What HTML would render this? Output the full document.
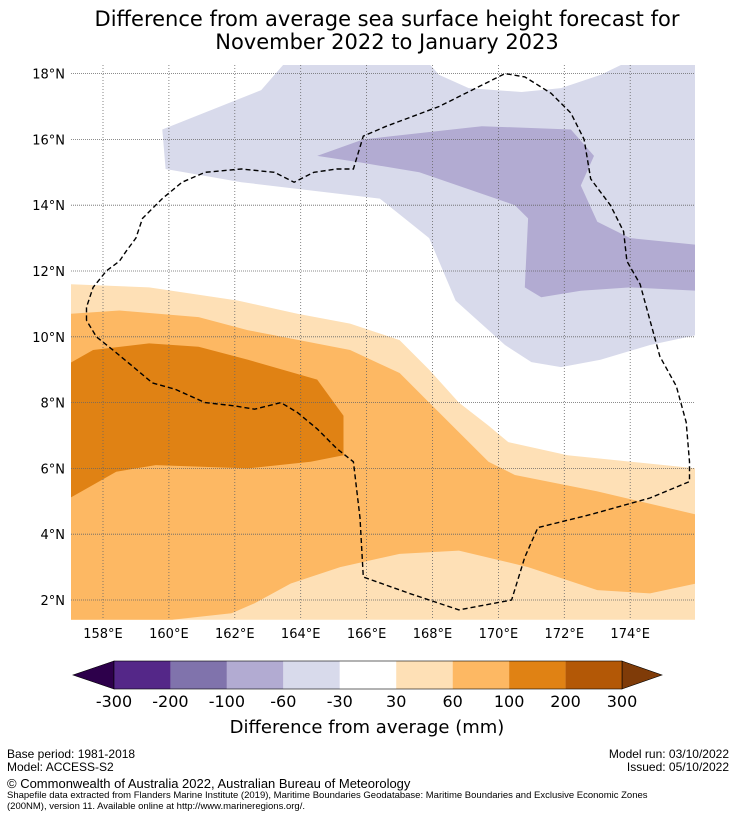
<!DOCTYPE html>
<html><head><meta charset="utf-8"><style>
body{margin:0;background:#fff;width:736px;height:816px;overflow:hidden;font-family:"DejaVu Sans","Liberation Sans",sans-serif}
svg{position:absolute;left:0;top:0}
.ft{position:absolute;font-family:"Liberation Sans Narrow","Liberation Sans",sans-serif;color:#000;white-space:nowrap}
</style></head><body>
<svg id="chart" width="736" height="816" xmlns="http://www.w3.org/2000/svg">
<text x="387" y="26" text-anchor="middle" font-size="21">Difference from average sea surface height forecast for</text>
<text x="387" y="49" text-anchor="middle" font-size="21">November 2022 to January 2023</text>
<g id="map"></g>
<g id="cbar"></g>
<text x="367" y="733" text-anchor="middle" font-size="18">Difference from average (mm)</text>
</svg>
<div class="ft" style="left:7px;top:748px;font-size:12px;line-height:13px">Base period: 1981-2018<br>Model: ACCESS-S2</div>
<div class="ft" style="right:7px;top:748px;font-size:12px;line-height:13px;text-align:right">Model run: 03/10/2022<br>Issued: 05/10/2022</div>
<div class="ft" style="left:7px;top:776px;font-size:13px">© Commonwealth of Australia 2022, Australian Bureau of Meteorology</div>
<div class="ft" style="left:7px;top:790px;font-size:9.5px;line-height:11px">Shapefile data extracted from Flanders Marine Institute (2019), Maritime Boundaries Geodatabase: Maritime Boundaries and Exclusive Economic Zones<br>(200NM), version 11. Available online at http://www.marineregions.org/.</div>
<script>
const lonTicks=[158,160,162,164,166,168,170,172,174];
const latTicks=[2,4,6,8,10,12,14,16,18];
const cbarBounds=[-300,-200,-100,-60,-30,30,60,100,200,300];
const cbarColors=["#542788","#8073ac","#b2abd2","#d8daeb","#ffffff","#fee0b6","#fdb863","#e08214","#b35806"];
// contour regions as [lon,lat]
const lightPurple=[[162.9,18.3],[167.9,18.3],[168.2,17.96],[169.1,17.56],[170.7,17.44],[171.9,17.56],[173.1,17.96],[173.8,18.3],[176,18.3],[176,10.05],[174.6,9.75],[173.1,9.3],[171.9,9.08],[171.0,9.23],[170.2,9.75],[168.7,11.1],[167.9,13.0],[166.4,14.2],[162.2,14.7],[159.9,15.1],[159.8,16.3],[162.8,17.5],[163.5,18.3]];
const midPurple=[[164.5,15.5],[165.9,16.0],[169.5,16.4],[172.2,16.3],[172.9,15.5],[172.5,14.6],[173.0,13.5],[174.0,13.0],[176,12.8],[176,11.4],[174.0,11.5],[172.5,11.4],[171.3,11.2],[170.8,11.5],[170.9,13.6],[170.5,14.0],[167.6,15.0],[165.8,15.3]];
const orange30=[[157,11.6],[159.4,11.5],[162.1,11.1],[163.9,10.7],[165.5,10.4],[167.0,9.9],[167.9,9.0],[168.8,8.0],[169.7,7.3],[170.3,6.8],[172.1,6.4],[176,6.0],[176,1.4],[157,1.4]];
const orange60=[[157,10.7],[158.5,10.8],[160.9,10.6],[162.4,10.2],[165.5,9.6],[167.0,8.9],[167.9,8.0],[168.8,7.1],[169.7,6.2],[170.5,5.8],[173.0,5.3],[176,4.6],[176,2.5],[174.6,2.2],[173.0,2.3],[170.9,3.0],[168.8,3.5],[167.0,3.4],[165.2,3.0],[163.7,2.5],[162.6,1.9],[161.9,1.6],[160.1,1.4],[157,1.4]];
const orange100=[[157,9.2],[157.7,9.6],[159.4,9.8],[160.9,9.7],[162.4,9.3],[164.5,8.7],[165.3,7.6],[165.3,6.4],[164.3,6.2],[162.4,6.0],[159.6,6.1],[158.4,5.9],[157.7,5.5],[157,5.1]];
const eez=[[157.5,10.5],[157.5,10.9],[157.7,11.5],[158.1,12.0],[158.5,12.3],[158.7,12.6],[159.0,13.0],[159.2,13.6],[159.8,14.2],[160.4,14.7],[161.1,15.0],[162.2,15.1],[163.2,15.0],[163.8,14.7],[164.4,15.0],[165.1,15.1],[165.6,15.1],[165.9,16.1],[166.6,16.4],[168.2,17.0],[169.4,17.6],[170.2,18.0],[170.8,17.9],[171.6,17.4],[172.2,16.8],[172.6,16.0],[172.8,14.8],[173.4,14.0],[173.8,13.2],[173.9,12.3],[174.3,11.6],[174.6,10.5],[174.9,9.4],[175.4,8.5],[175.7,7.4],[175.8,6.2],[175.8,5.6],[174.6,5.1],[172.8,4.6],[171.2,4.2],[170.8,3.3],[170.4,2.0],[168.8,1.7],[167.3,2.2],[165.9,2.7],[165.8,4.5],[165.6,6.2],[165.1,6.6],[164.5,7.2],[163.9,7.7],[163.4,8.0],[163.0,7.9],[162.6,7.8],[162.0,7.9],[161.1,8.0],[160.2,8.4],[159.5,8.6],[158.9,9.1],[158.3,9.6],[157.8,10.0],[157.5,10.5]];
const NS="http://www.w3.org/2000/svg";
const X=lon=>103+(lon-158)*32.95;
const Y=lat=>600-(lat-2)*32.9;
const map=document.getElementById('map');
function mk(tag,attrs,parent){const e=document.createElementNS(NS,tag);for(const k in attrs)e.setAttribute(k,attrs[k]);parent.appendChild(e);return e;}
const clip=mk('clipPath',{id:'mc'},map);mk('rect',{x:71,y:65,width:624,height:555},clip);
const g=mk('g',{'clip-path':'url(#mc)'},map);
function poly(pts,fill,name){const p=mk('polygon',{points:pts.map(q=>X(q[0]).toFixed(1)+','+Y(q[1]).toFixed(1)).join(' '),fill:fill},g);

}
poly(lightPurple,cbarColors[3],'contour-minus60-minus30');
poly(midPurple,cbarColors[2],'contour-minus100-minus60');
poly(orange30,cbarColors[5],'contour-30-60');
poly(orange60,cbarColors[6],'contour-60-100');
poly(orange100,cbarColors[7],'contour-100-200');
latTicks.forEach(l=>{const ln=mk('line',{x1:71,x2:695,y1:Y(l),y2:Y(l),stroke:'#666','stroke-width':0.8,'stroke-dasharray':'1,1'},g);


const t=mk('text',{x:65,y:Y(l)+5,'text-anchor':'end','font-size':13},map);t.textContent=l+'°N';

});
lonTicks.forEach(l=>{const ln=mk('line',{x1:X(l),x2:X(l),y1:65,y2:620,stroke:'#666','stroke-width':0.8,'stroke-dasharray':'1,2'},g);


const t=mk('text',{x:X(l),y:638,'text-anchor':'middle','font-size':13},map);t.textContent=l+'°E';

});
const ez=mk('polyline',{points:eez.map(q=>X(q[0]).toFixed(1)+','+Y(q[1]).toFixed(1)).join(' '),fill:'none',stroke:'#000','stroke-width':1.4,'stroke-dasharray':'5,3'},g);


// colorbar
const cb=document.getElementById('cbar');
const cx0=114,cx1=622,cy0=661,cy1=689,seg=(cx1-cx0)/cbarColors.length;
const tl=mk('polygon',{points:`${cx0},${cy0} ${cx0},${cy1} 73,675`,fill:'#2d004b',stroke:'#000','stroke-width':0.6},cb);


const tr=mk('polygon',{points:`${cx1},${cy0} ${cx1},${cy1} 662,675`,fill:'#7f3b08',stroke:'#000','stroke-width':0.6},cb);


cbarColors.forEach((c,i)=>{const r=mk('rect',{x:cx0+i*seg,y:cy0,width:seg,height:cy1-cy0,fill:c},cb);

});
mk('rect',{x:cx0,y:cy0,width:cx1-cx0,height:cy1-cy0,fill:'none',stroke:'#000','stroke-width':0.6},cb);
cbarBounds.forEach((b,i)=>{const t=mk('text',{x:cx0+i*seg,y:707,'text-anchor':'middle','font-size':16},cb);t.textContent=b;

});
</script>
</body></html>
